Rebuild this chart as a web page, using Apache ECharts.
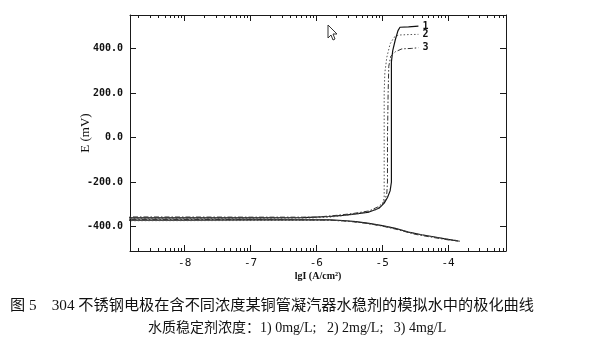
<!DOCTYPE html>
<html>
<head>
<meta charset="utf-8">
<script src="https://cdn.jsdelivr.net/npm/echarts@6/dist/echarts.min.js"></script>
<style>
html,body{margin:0;padding:0;background:#fff;}
#chart{width:608px;height:345px;}
</style>
</head>
<body>
<div id="chart"></div>
<script>
// ---- Data (lgI [A/cm^2], E [mV]) ----
const curve1 = [
  [-3.85,-465],[-4.0,-458],[-4.2,-447],[-4.4,-437],[-4.6,-425],[-4.8,-408],[-5.0,-396],[-5.2,-386],[-5.4,-378],[-5.6,-373],[-5.8,-370],[-6.2,-370],[-7.0,-370],[-8.0,-371],[-8.9,-371],
  [-8.9,-361],[-8.0,-361],[-7.0,-361],[-6.2,-360],[-5.8,-355],[-5.6,-350],[-5.4,-343],[-5.2,-335],[-5.05,-318],[-4.97,-295],[-4.92,-270],[-4.88,-240],[-4.86,-200],[-4.86,0],[-4.86,200],[-4.86,340],[-4.84,390],[-4.80,440],[-4.76,480],[-4.73,495],[-4.60,497],[-4.45,500]
];
const curve2 = [
  [-3.88,-462],[-4.1,-453],[-4.3,-443],[-4.5,-432],[-4.7,-418],[-4.9,-402],[-5.1,-392],[-5.3,-383],[-5.5,-376],[-5.8,-372],[-6.5,-373],[-8.9,-374],
  [-8.9,-364],[-7.0,-364],[-6.1,-362],[-5.8,-358],[-5.5,-348],[-5.3,-340],[-5.1,-325],[-5.0,-305],[-4.97,-270],[-4.97,-200],[-4.97,0],[-4.97,200],[-4.96,290],[-4.93,360],[-4.88,420],[-4.82,450],[-4.75,460],[-4.60,462],[-4.45,463]
];
const curve3 = [
  [-3.82,-466],[-4.0,-460],[-4.25,-448],[-4.5,-435],[-4.75,-415],[-5.0,-398],[-5.25,-385],[-5.5,-377],[-5.8,-371],[-6.5,-369],[-8.9,-368],
  [-8.9,-357],[-7.0,-358],[-6.0,-358],[-5.7,-350],[-5.45,-342],[-5.2,-330],[-5.05,-310],[-4.96,-285],[-4.93,-250],[-4.92,-200],[-4.92,0],[-4.91,200],[-4.90,320],[-4.87,365],[-4.80,385],[-4.70,398],[-4.55,400],[-4.45,403]
];
const curveNames = ['1','2','3'];
const xTickLabels = [-8,-7,-6,-5,-4];
const yTickLabels = [-400,-200,0,200,400];
const captionLine1 = '图 5　304 不锈钢电极在含不同浓度某铜管凝汽器水稳剂的模拟水中的极化曲线';
const captionLine2 = '水质稳定剂浓度：1) 0mg/L;   2) 2mg/L;   3) 4mg/L';

// ---- Axis setup ----
const X_MIN = -8.83, X_MAX = -3.12, Y_MIN = -510, Y_MAX = 550;
const minorX = [];
for (let d = -9; d <= -4; d++) {
  for (let k = 2; k <= 9; k++) {
    const v = d + Math.log10(k);
    if (v > X_MIN && v < X_MAX) minorX.push(v);
  }
}
const frameColor = '#1a1a1a';
const monoFont = 'DejaVu Sans Mono';

function xAx(pos, ticks, len, showLine, showLabels) {
  return {
    type: 'value', position: pos, min: X_MIN, max: X_MAX,
    axisLine: {show: showLine, onZero: false, lineStyle: {color: frameColor, width: 1}},
    axisTick: {show: true, inside: true, length: len, customValues: ticks, lineStyle: {color: frameColor, width: 1}},
    axisLabel: showLabels ? {show: true, customValues: xTickLabels, margin: 7, fontFamily: monoFont, fontSize: 11, color: '#111',
      formatter: v => String(v)} : {show: false},
    splitLine: {show: false}
  };
}
function yAx(pos, showLabels) {
  return {
    type: 'value', position: pos, min: Y_MIN, max: Y_MAX,
    axisLine: {show: true, onZero: false, lineStyle: {color: frameColor, width: 1}},
    axisTick: {show: true, inside: true, length: 6, customValues: yTickLabels, lineStyle: {color: frameColor, width: 1}},
    axisLabel: showLabels ? {show: true, customValues: yTickLabels, margin: 7, fontFamily: monoFont, fontWeight: 'bold', fontSize: 10, color: '#111',
      formatter: v => v.toFixed(1)} : {show: false},
    splitLine: {show: false}
  };
}

const xMain = xAx('bottom', xTickLabels, 6, true, true);
xMain.name = 'lgI (A/cm²)';
xMain.nameLocation = 'middle';
xMain.nameGap = 20;
xMain.nameMoveOverlap = false;
xMain.nameTextStyle = {fontFamily: 'Liberation Serif', fontWeight: 'bold', fontSize: 10, color: '#111'};
const yMain = yAx('left', true);
yMain.name = 'E (mV)';
yMain.nameLocation = 'middle';
yMain.nameRotate = 90;
yMain.nameGap = 38;
yMain.nameMoveOverlap = false;
yMain.nameTextStyle = {fontFamily: 'Liberation Serif', fontSize: 13, color: '#111'};

const styles = [
  {color: '#111', type: 'solid', width: 1.2},
  {color: '#555', type: [1.5, 2], width: 1},
  {color: '#333', type: [5, 2, 1.5, 2], width: 1}
];
const curves = [curve1, curve2, curve3];

const chart = echarts.init(document.getElementById('chart'), null, {renderer: 'canvas'});
chart.setOption({
  animation: false,
  backgroundColor: '#fff',
  grid: {left: 130, right: 102, top: 15, bottom: 94, containLabel: false},
  xAxis: [
    xMain,
    xAx('bottom', minorX, 3, false, false),
    xAx('top', xTickLabels, 6, true, false),
    xAx('top', minorX, 3, false, false)
  ],
  yAxis: [yMain, yAx('right', false)],
  series: curves.map((c, i) => ({
    type: 'line', name: curveNames[i], data: c, xAxisIndex: 0, yAxisIndex: 0,
    showSymbol: false, smooth: false, clip: true,
    lineStyle: styles[i], itemStyle: {color: styles[i].color},
    endLabel: {show: true, formatter: curveNames[i], distance: 4, fontFamily: monoFont, fontWeight: 'bold', fontSize: 10, color: '#111'}
  })),
  graphic: [
    {type: 'polygon', shape: {points: [[328,25],[328,38],[331,35],[333,40],[335,39],[333,34],[337,34]]},
      style: {fill: '#fff', stroke: '#333', lineWidth: 1}},
    {type: 'text', left: 10, top: 298, style: {text: captionLine1, font: '15.2px "Liberation Serif", "Noto Sans CJK SC"', fill: '#111'}},
    {type: 'text', left: 148, top: 321, style: {text: captionLine2, font: '14px "Liberation Serif", "Noto Sans CJK SC"', fill: '#111'}}
  ]
});
</script>
</body>
</html>
